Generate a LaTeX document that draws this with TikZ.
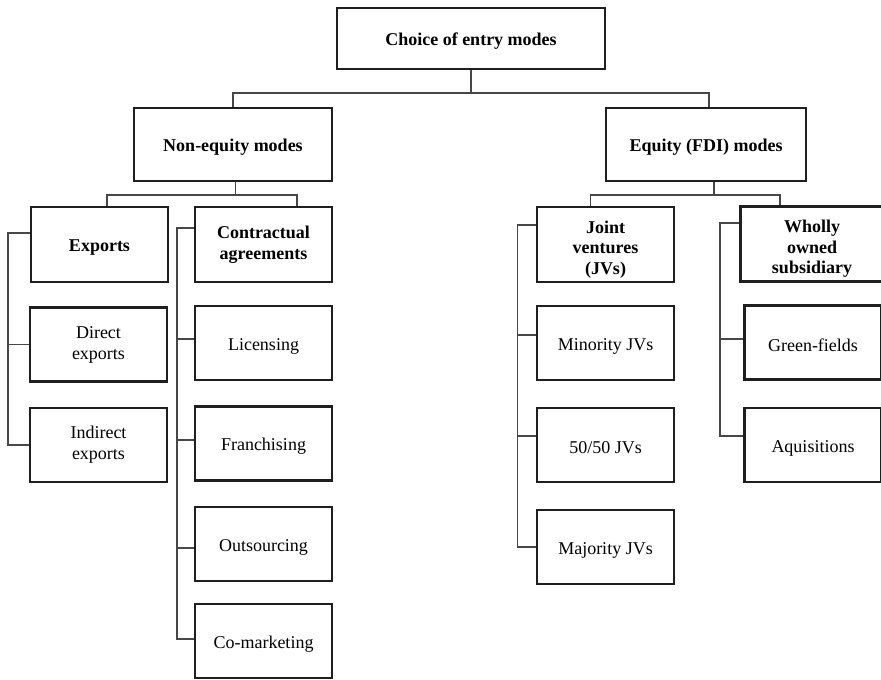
\documentclass[tikz,border=0pt]{standalone}
\usepackage{fontspec}
\setmainfont{Liberation Serif}
\begin{document}
\begin{tikzpicture}[x=1pt,y=-1pt,
  box/.style={draw=black!88, line width=2.2pt, inner sep=0pt, align=center,
    font=\fontsize{18}{21}\selectfont, minimum width=137pt, minimum height=74pt,
    execute at begin node={\rule{0pt}{18pt}}},
  head/.style={box, font=\fontsize{18}{21}\selectfont\bfseries, minimum height=75pt},
  headtext/.style={inner sep=0pt, align=center, font=\fontsize{18}{20.5}\selectfont\bfseries},
  conn/.style={draw=black!72, line width=1.1pt}]
\clip (0,0) rectangle (881,680);
\fill[white] (0,0) rectangle (881,680);

% top levels
\node[head, minimum width=268pt, minimum height=61pt] (choice) at (471,38.5) {Choice of entry modes};
\node[head, minimum width=198pt, minimum height=73pt] (noneq) at (233,144.5) {Non-equity modes};
\node[head, minimum width=200pt, minimum height=73pt] (equity) at (706,144.5) {Equity (FDI) modes};

% category boxes
\node[head] (exports)  at (99.5,244.5)  {Exports};
\node[head] (contract) at (263.5,244.5) {Contractual\\agreements};
\node[head] (jv)       at (605.5,244.5) {};
\node[headtext] (jvtext) at ([yshift=-5pt]jv.center) {Joint\\ventures\\(JVs)};
\node[head, minimum width=143pt] (wos) at (812,244) {};
\node[headtext] (wostext) at ([yshift=-5pt]wos.center) {Wholly\\owned\\subsidiary};

% individual modes
\node[box] (direct)      at (98.5,344.5) {Direct\\exports};
\node[box] (indirect)    at (98.5,445)   {Indirect\\exports};
\node[box] (licensing)   at (263.5,343)  {Licensing};
\node[box] (franchising) at (263.5,443.5){Franchising};
\node[box] (outsourcing) at (263.5,544)  {Outsourcing};
\node[box] (comarketing) at (263.5,641)  {Co-marketing};
\node[box] (minority)    at (605.5,343)  {Minority JVs};
\node[box] (fifty)       at (605.5,445)  {50/50 JVs};
\node[box] (majority)    at (605.5,547)  {Majority JVs};
\node[box, minimum width=137pt] (green) at (813,342.5) {Green-fields};
\node[box, minimum width=137pt] (aquis) at (813,445)   {Aquisitions};

% first split
\coordinate (j0) at (471,93);
\coordinate (eqx) at (709,0);
\draw[conn] (choice.south) -- (j0);
\draw[conn] (noneq.north) |- (j0) -| (equity.north -| eqx);

% non-equity split
\coordinate (n0) at (235.7,195);
\coordinate (exx) at (107,0);
\coordinate (ctx) at (297,0);
\draw[conn] (noneq.south -| n0) -- (n0);
\draw[conn] (exports.north -| exx) |- (n0) -| (contract.north -| ctx);

% equity split
\coordinate (e0) at (714,195);
\coordinate (jvx) at (590.7,0);
\coordinate (wox) at (780,0);
\draw[conn] (equity.south -| e0) -- (e0);
\draw[conn] (jv.north -| jvx) |- (e0) -| (wos.north -| wox);

% exports bracket
\coordinate (s1) at (8,233);
\draw[conn] (exports.west |- s1) -- (s1) |- (indirect.west);
\draw[conn] (s1 |- direct.west) -- (direct.west);

% contractual bracket
\coordinate (s2) at (177,228);
\coordinate (s2a) at (177,339);
\coordinate (s2b) at (177,440);
\coordinate (s2c) at (177,548);
\coordinate (s2d) at (177,639);
\draw[conn] (contract.west |- s2) -- (s2) -- (s2d) -- (comarketing.west |- s2d);
\draw[conn] (s2a) -- (licensing.west |- s2a);
\draw[conn] (s2b) -- (franchising.west |- s2b);
\draw[conn] (s2c) -- (outsourcing.west |- s2c);

% joint ventures bracket
\coordinate (s3) at (517.7,225);
\coordinate (s3a) at (517.7,335);
\coordinate (s3b) at (517.7,436);
\coordinate (s3c) at (517.7,547);
\draw[conn] (jv.west |- s3) -- (s3) -- (s3c) -- (majority.west |- s3c);
\draw[conn] (s3a) -- (minority.west |- s3a);
\draw[conn] (s3b) -- (fifty.west |- s3b);

% wholly owned bracket
\coordinate (s4) at (720,223);
\coordinate (s4a) at (720,339);
\coordinate (s4b) at (720,436);
\draw[conn] (wos.west |- s4) -- (s4) -- (s4b) -- (aquis.west |- s4b);
\draw[conn] (s4a) -- (green.west |- s4a);
\end{tikzpicture}
\end{document}
